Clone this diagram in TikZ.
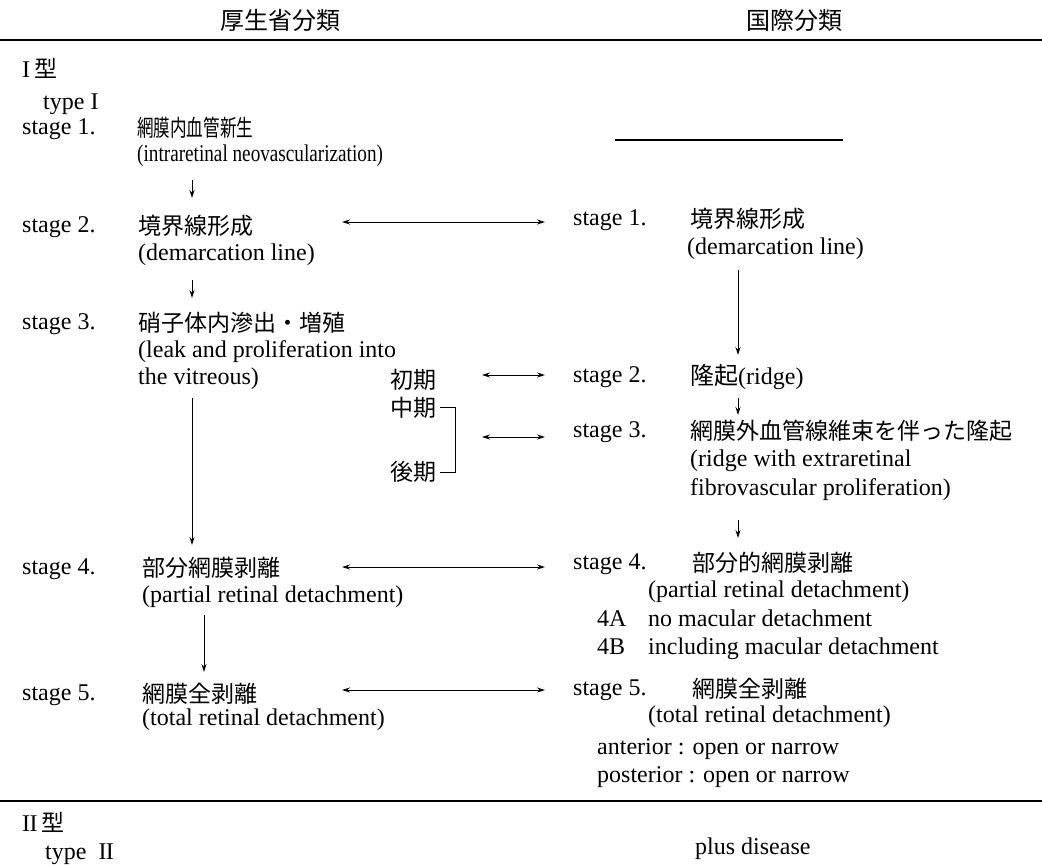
\documentclass[tikz,border=0pt]{standalone}
\usepackage{fontspec}
\usepackage{graphicx}
\setmainfont{Liberation Serif}
\newfontfamily\jp{Noto Sans CJK JP}
\usetikzlibrary{arrows.meta}
\begin{document}
\begin{tikzpicture}[x=1pt,y=-1pt,
  lat/.style={anchor=base west, inner sep=0pt, font=\fontsize{24}{28}\selectfont},
  jpt/.style={anchor=base west, inner sep=0pt, font=\fontsize{23}{28}\selectfont\jp},
  hdr/.style={anchor=base, inner sep=0pt, font=\fontsize{24}{28}\selectfont\jp},
  tip/.tip={Stealth[length=8pt,width=5pt]},
  arr/.style={line width=0.9pt, -tip},
  darr/.style={line width=0.9pt, tip-tip},
  rulel/.style={line width=1.3pt}]
\useasboundingbox (0,0) rectangle (1042,865);

% headers and rules
\node[hdr] (h1) at (280,29) {厚生省分類};
\node[hdr] (h2) at (794,29) {国際分類};
\coordinate (r1a) at (0,40); \coordinate (r1b) at (1042,40);
\draw[rulel] (r1a) -- (r1b);
\coordinate (r2a) at (0,801); \coordinate (r2b) at (1042,801);
\draw[rulel] (r2a) -- (r2b);

% left column
\node[lat] (t1) at (22,77) {I\kern4pt{\jp\fontsize{23}{28}\selectfont 型}};
\node[lat] (ty1) at (43,109) {type I};
\node[lat] (ls1) at (22,134) {stage 1.};
\node[jpt] (lj1) at (137,136) {\scalebox{0.72}[1]{網膜内血管新生}};
\node[lat] (le1) at (137,161) {\scalebox{0.8}[1]{(intraretinal neovascularization)}};
\node[lat] (ls2) at (22,232) {stage 2.};
\node[jpt] (lj2) at (138,234) {境界線形成};
\node[lat] (le2) at (138,260) {(demarcation line)};
\node[lat] (ls3) at (22,329) {stage 3.};
\node[jpt] (lj3) at (138,331) {硝子体内滲出・増殖};
\node[lat] (le3a) at (138,357) {(leak and proliferation into};
\node[lat] (le3b) at (138,384) {the vitreous)};
\node[jpt] (e1) at (390,388) {初期};
\node[jpt] (e2) at (390,416) {中期};
\node[jpt] (e3) at (390,480) {後期};
\node[lat] (ls4) at (22,574) {stage 4.};
\node[jpt] (lj4) at (142,576) {部分網膜剥離};
\node[lat] (le4) at (142,602) {(partial retinal detachment)};
\node[lat] (ls5) at (22,700) {stage 5.};
\node[jpt] (lj5) at (142,702) {網膜全剥離};
\node[lat] (le5) at (142,725) {(total retinal detachment)};
\node[lat] (t2) at (22,831) {I\kern-0.6pt I\kern4pt{\jp\fontsize{23}{28}\selectfont 型}};
\node[lat] (ty2) at (45,859) {type \ I\kern-0.6pt I};

% right column
\coordinate (sl1) at (615,140); \coordinate (sl2) at (843,140);
\draw[line width=1.2pt] (sl1) -- (sl2);
\node[lat] (rs1) at (573,225) {stage 1.};
\node[jpt] (rj1) at (690,227) {境界線形成};
\node[lat] (re1) at (687,254) {(demarcation line)};
\node[lat] (rs2) at (573,382) {stage 2.};
\node[lat] (rj2) at (690,384) {{\jp 隆起}(ridge)};
\node[lat] (rs3) at (573,437) {stage 3.};
\node[jpt] (rj3) at (690,439) {網膜外血管線維束を伴った隆起};
\node[lat] (re3a) at (690,466) {(ridge with extraretinal};
\node[lat] (re3b) at (690,495) {fibrovascular proliferation)};
\node[lat] (rs4) at (573,569) {stage 4.};
\node[jpt] (rj4) at (692,571) {部分的網膜剥離};
\node[lat] (re4) at (648,597) {(partial retinal detachment)};
\node[lat] (r4a) at (597,626) {4A};
\node[lat] (r4at) at (648,626) {no macular detachment};
\node[lat] (r4b) at (597,654) {4B};
\node[lat] (r4bt) at (648,654) {including macular detachment};
\node[lat] (rs5) at (573,695) {stage 5.};
\node[jpt] (rj5) at (692,697) {網膜全剥離};
\node[lat] (re5) at (648,722) {(total retinal detachment)};
\node[lat] (ra) at (597,754) {anterior : open or narrow};
\node[lat] (rp) at (597,782) {posterior : open or narrow};
\node[lat] (pd) at (695,854) {plus disease};

% vertical arrows, left
\coordinate (va1) at (192,180); \coordinate (vb1) at (192,198);
\draw[arr] (va1) -- (vb1);
\coordinate (va2) at (192,280); \coordinate (vb2) at (192,298);
\draw[arr] (va2) -- (vb2);
\coordinate (va3) at (192,398); \coordinate (vb3) at (192,545);
\draw[arr] (va3) -- (vb3);
\coordinate (va4) at (204,615); \coordinate (vb4) at (204,672);
\draw[arr] (va4) -- (vb4);

% vertical arrows, right
\coordinate (wa1) at (738,270); \coordinate (wb1) at (738,355);
\draw[arr] (wa1) -- (wb1);
\coordinate (wa2) at (738,398); \coordinate (wb2) at (738,415);
\draw[arr] (wa2) -- (wb2);
\coordinate (wa3) at (738,520); \coordinate (wb3) at (738,538);
\draw[arr] (wa3) -- (wb3);

% bracket
\coordinate (bk1) at (440,407); \coordinate (bk2) at (455,407);
\coordinate (bk3) at (455,472); \coordinate (bk4) at (440,472);
\draw[line width=0.9pt] (bk1) -- (bk2) -- (bk3) -- (bk4);

% horizontal double arrows
\coordinate (ha1) at (342,222); \coordinate (hb1) at (545,222);
\draw[darr] (ha1) -- (hb1);
\coordinate (ha2) at (482,375); \coordinate (hb2) at (545,375);
\draw[darr] (ha2) -- (hb2);
\coordinate (ha3) at (482,437); \coordinate (hb3) at (545,437);
\draw[darr] (ha3) -- (hb3);
\coordinate (ha4) at (342,567); \coordinate (hb4) at (545,567);
\draw[darr] (ha4) -- (hb4);
\coordinate (ha5) at (342,690); \coordinate (hb5) at (545,690);
\draw[darr] (ha5) -- (hb5);
\end{tikzpicture}
\end{document}
